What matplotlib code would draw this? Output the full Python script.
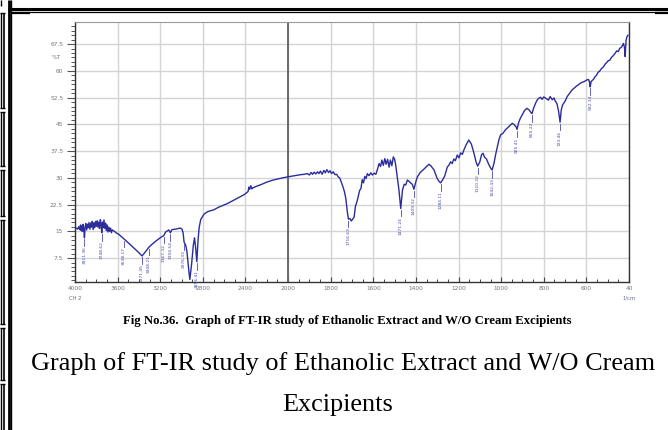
import matplotlib
matplotlib.use("Agg")
import matplotlib.pyplot as plt
import numpy as np
from matplotlib.lines import Line2D
from matplotlib.ticker import FixedLocator

# FT-IR spectrum: wavenumber (1/cm) and transmittance (%T)
wavenumber = [
    4000, 3985, 3975, 3965, 3955, 3948, 3942, 3936, 3930, 3924, 3918, 3911.36, 3905,
    3898, 3890, 3883, 3876, 3868, 3860, 3852, 3845, 3838, 3830, 3822, 3815, 3807,
    3800, 3792, 3785, 3777, 3770, 3762, 3755, 3748.62, 3742, 3735, 3728, 3720, 3712,
    3705, 3698, 3690, 3682, 3674, 3666, 3658, 3650, 3630, 3610, 3590, 3575, 3560,
    3538.17, 3500, 3450, 3400, 3371.45, 3340, 3308.21, 3280, 3240, 3200, 3167.32,
    3150, 3120, 3104.54, 3090, 3060, 3030, 3010, 2995, 2985, 2976.33, 2962, 2950,
    2940, 2930, 2922.08, 2905, 2890, 2878, 2868, 2856.41, 2845, 2835, 2820, 2790,
    2757, 2726, 2700, 2650, 2600, 2569, 2500, 2450, 2412, 2390, 2375, 2368, 2360,
    2350, 2340, 2330, 2300, 2255, 2200, 2150, 2097, 2050, 2000,
    1970, 1940, 1924, 1910, 1900, 1892, 1885, 1878, 1870, 1862, 1855, 1848, 1840,
    1832, 1825, 1818, 1810, 1803, 1796, 1788, 1780, 1772, 1765, 1758, 1750, 1742,
    1735, 1729, 1722, 1716.63, 1710, 1703, 1697, 1690, 1684, 1676, 1670, 1664, 1658,
    1652, 1646, 1640, 1634, 1628, 1620, 1612, 1604, 1596, 1588, 1580, 1573, 1566,
    1560, 1553, 1546, 1540, 1533, 1526, 1520, 1513, 1506, 1500, 1495, 1488, 1480,
    1471.24, 1463, 1455, 1448, 1440, 1432, 1425, 1417, 1409.32, 1400, 1393, 1380,
    1365, 1350, 1339, 1330, 1315, 1300, 1290, 1284.11, 1275, 1265, 1253, 1245, 1237,
    1230, 1222, 1215, 1206, 1198, 1190, 1182, 1175, 1165, 1152, 1140, 1128, 1118,
    1110.22, 1100, 1092, 1085, 1078, 1069, 1060, 1050, 1042.43, 1034, 1025, 1018,
    1010, 1003, 990, 980, 972, 960, 948, 938, 930, 925.41, 918, 910, 900, 890, 879,
    868, 860, 855.22, 848, 838, 830, 824, 815, 808, 800, 790, 778, 770, 760, 752,
    746, 738, 730, 723.46, 718, 712, 707, 700, 690, 680, 668, 655, 645, 635, 629,
    620, 610, 600, 590, 585, 582.14, 578, 567, 560, 552, 545, 538, 530, 520, 512,
    505, 498, 490, 482, 475, 465, 458, 450, 444, 436, 430, 426, 421, 418, 414, 410,
    405,
]
transmittance = [
    15.8, 15.9, 15.6, 16.3, 15.5, 16.8, 15.2, 16.5, 15.0, 17.0, 15.8, 13.2, 16.2,
    17.2, 15.4, 17.0, 16.0, 17.5, 15.6, 17.3, 16.2, 17.8, 15.5, 17.4, 16.0, 17.8,
    16.4, 18.0, 16.2, 17.6, 15.8, 18.3, 16.8, 14.6, 17.6, 16.0, 18.2, 15.8, 17.3,
    15.2, 16.8, 14.8, 16.2, 15.0, 15.9, 14.6, 15.4, 15.0, 14.5, 14.2, 13.8, 13.4,
    12.8, 11.8, 10.4, 9.0, 8.1, 9.2, 10.5, 11.3, 12.3, 13.2, 13.8,
    14.8, 15.4, 14.6, 15.5, 15.6, 15.8, 15.9, 15.6, 14.5, 12.0, 11.2, 9.5,
    6.5, 3.5, 1.5, 6.0, 11.0, 13.2, 10.5, 6.5, 12.5, 16.0, 18.3, 19.8,
    20.5, 20.8, 21.0, 21.8, 22.4, 22.8, 23.9, 24.7, 25.3, 25.8, 26.2, 27.4, 26.8,
    27.8, 26.9, 27.2, 27.6, 28.1, 28.8, 29.3, 29.7, 30.0, 30.3,
    30.6, 30.9, 31.0, 31.2, 30.8, 31.5, 31.0, 31.6, 31.1, 31.7, 31.2, 31.9, 31.0,
    32.1, 31.4, 32.3, 31.5, 32.0, 31.2, 31.7, 30.9, 31.0, 30.3, 30.0, 28.8, 27.4,
    26.0, 24.2, 20.5, 18.4, 18.6, 17.9, 18.4, 19.0, 22.0, 23.5, 25.0, 26.5, 27.0,
    29.5, 28.6, 30.4, 29.8, 31.2, 30.6, 31.4, 30.8, 31.3, 31.0, 32.5, 34.0, 33.2,
    35.0, 33.5, 35.4, 33.8, 35.2, 33.0, 35.0, 33.4, 35.9, 35.2, 33.6, 30.5, 26.8,
    21.4, 26.6, 28.2, 28.0, 29.4, 29.0, 28.6, 28.2, 26.8, 29.0, 30.3, 31.5,
    32.3, 33.2, 33.8, 33.4, 32.2, 29.8, 28.9, 28.6, 29.4, 30.5, 33.0, 33.6, 34.5,
    34.0, 35.3, 34.8, 36.4, 35.6, 37.0, 36.6, 37.8, 39.2, 40.6, 39.5, 37.0, 34.5,
    33.3, 34.5, 36.5, 36.9, 35.8, 35.3, 34.0, 32.8, 32.2, 34.0, 36.8, 38.7,
    40.8, 42.0, 42.6, 43.5, 43.9, 44.6, 45.3, 44.9, 44.3, 43.6, 45.5, 46.7, 47.8, 48.9, 49.5,
    49.0, 48.3, 48.0, 49.5, 51.0, 51.9, 52.3, 52.6, 52.0, 52.7, 52.3, 51.8, 52.8, 51.9, 52.4,
    51.5, 50.8, 48.5, 45.6, 49.0, 50.4, 50.9, 51.5, 52.8, 53.6, 54.6, 55.3, 55.8, 56.2, 56.5,
    56.8, 57.0, 57.4, 57.6, 56.8, 55.5, 57.0, 57.6, 58.3, 58.8, 59.6, 59.9, 60.6, 61.1, 61.9,
    62.3, 62.8, 63.0, 63.8, 64.2, 64.9, 65.6, 65.4, 66.3, 66.6, 67.2, 67.7, 66.5, 64.0, 68.5, 69.5,
    70.0,
]

# labelled absorption bands
peak_wn = [3911.36, 3748.62, 3538.17, 3371.45, 3308.21, 3167.32, 3104.54, 2976.33,
           2856.41, 1716.63, 1471.24, 1409.32, 1284.11, 1110.22, 1042.43, 925.41,
           855.22, 723.46, 582.14]

x_major = [4000, 3600, 3200, 2800, 2400, 2000, 1800, 1600, 1400, 1200, 1000, 800, 600, 400]
x_labels = ["4000", "3600", "3200", "2800", "2400", "2000", "1800", "1600", "1400",
            "1200", "1000", "800", "600", "40"]
y_major = [7.5, 15, 22.5, 30, 37.5, 45, 52.5, 60, 67.5]

W, H = 668, 430
line_col = "#2c2c9c"
lab_col = "#4a4aa8"


def fwd(w):
    w = np.asarray(w, dtype=float)
    return np.where(w >= 2000, w, 2 * w - 2000)


def inv(u):
    u = np.asarray(u, dtype=float)
    return np.where(u >= 2000, u, (u + 2000) / 2)


fig = plt.figure(figsize=(W / 100, H / 100), dpi=100)
fig.patch.set_facecolor("white")
ax = fig.add_axes([75 / W, 1 - 282 / H, 554 / W, 260 / H])

ax.set_xscale("function", functions=(fwd, inv))
ax.set_xlim(4000, 400)
ax.set_ylim(0.8, 73.7)

ax.xaxis.set_major_locator(FixedLocator(x_major))
ax.set_xticklabels(x_labels)
minors = list(np.arange(4000, 2000, -100)) + list(np.arange(2000, 400, -50))
ax.xaxis.set_minor_locator(FixedLocator(minors))
ax.yaxis.set_major_locator(FixedLocator(y_major))
ax.set_yticklabels(["{:g}".format(v) for v in y_major])
ax.yaxis.set_minor_locator(FixedLocator(np.arange(1.25, 73.7, 1.25)))

ax.grid(True, which="major", color="#d4d4d4", lw=1.0)
ax.axvline(2000, color="#6a6a6a", lw=1.4, zorder=1.5)
ax.set_axisbelow(True)

ax.tick_params(axis="y", which="major", length=6, width=0.8, color="#555555",
               labelsize=4.2, labelcolor="#777777", pad=2.5)
ax.tick_params(axis="y", which="minor", length=3, width=0.7, color="#555555")
ax.tick_params(axis="x", which="major", direction="in", length=3.5, width=0.8,
               color="#444444", labelsize=4.2, labelcolor="#777777", pad=3)
ax.tick_params(axis="x", which="minor", direction="in", length=2, width=0.7, color="#444444")

for side in ["left", "bottom", "right"]:
    ax.spines[side].set_color("#333333")
    ax.spines[side].set_linewidth(1.0)
ax.spines["top"].set_color("#9a9a9a")

ax.plot(wavenumber, transmittance, color=line_col, lw=1.0, zorder=3)

# band labels hanging under each dip
for w in peak_wn:
    t = np.interp(w, wavenumber[::-1], transmittance[::-1])
    ax.plot([w, w], [t - 0.4, t - 2.2], color=lab_col, lw=0.6, zorder=3)
    ax.text(w, t - 2.3, "{:.2f}".format(w), rotation=90, ha="center", va="top",
            fontsize=3.2, color=lab_col, zorder=3)

ax.text(-0.025, 63.8, "%T", transform=ax.get_yaxis_transform(), ha="right",
        va="center", fontsize=4.2, color="#777777")
ax.text(4000, -3.8, "CH 2", ha="center", va="center", fontsize=3.8, color="#6a6a9a")
ax.text(400, -3.8, "1/cm", ha="center", va="center", fontsize=3.8, color="#6a6a9a")

fig.text(347 / W, 1 - 321 / H,
         "Fig No.36.  Graph of FT-IR study of Ethanolic Extract and W/O Cream Excipients",
         ha="center", va="center", fontsize=9.2, fontweight="bold",
         family="Liberation Serif")
fig.text(343 / W, 1 - 364 / H,
         "Graph of FT-IR study of Ethanolic Extract and W/O Cream",
         ha="center", va="center", fontsize=18.9, family="Liberation Serif")
fig.text(338 / W, 1 - 405 / H, "Excipients",
         ha="center", va="center", fontsize=18.9, family="Liberation Serif")


# page table rules around the figure
def rule(x0, y0, x1, y1, lw):
    fig.add_artist(Line2D([x0 / W, x1 / W], [1 - y0 / H, 1 - y1 / H],
                          lw=lw, color="black", solid_capstyle="butt"))


rule(8.5, 0, 8.5, H, 2.0)
rule(11.2, 0, 11.2, H, 1.0)
rule(8, 8.6, W, 8.6, 2.2)
rule(11, 11.8, W, 11.8, 0.9)
rule(11, 12.8, 30, 12.8, 1.6)
rule(655, 13.0, W, 13.0, 1.6)
cells = [(13, 108), (112, 166), (170, 216), (220, 324), (328, 380), (384, H + 2)]
for top, bot in cells:
    rule(0.6, top, 0.6, bot, 1.0)
    rule(3.8, top, 3.8, bot, 1.2)
    rule(0, top, 4.5, top, 1.0)
    rule(0, bot, 4.5, bot, 1.0)
rule(0.6, 0, 0.6, 6, 1.0)

fig.savefig("out.png", dpi=100)
